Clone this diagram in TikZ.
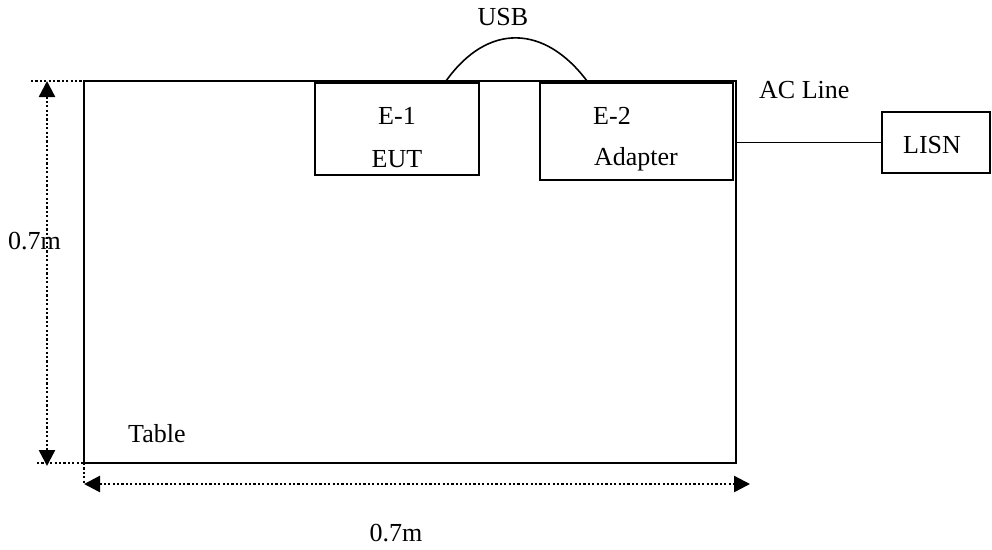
\documentclass[tikz,border=0pt]{standalone}
\usepackage{fontspec}
\setmainfont{Liberation Serif}
\usetikzlibrary{arrows.meta,calc}
\begin{document}
\begin{tikzpicture}[x=1pt,y=-1pt,
  every node/.style={font=\fontsize{26}{43}\selectfont,inner sep=0pt},
  lbl/.style={anchor=base},
  dimline/.style={line width=2.4pt,dash pattern=on 2.2pt off 2.2pt},
  dimarrow/.style={dimline,{Triangle[length=16pt,width=16pt]}-{Triangle[length=16pt,width=16pt]}}
]
\useasboundingbox (0,0) rectangle (992,549);
% table
\node[draw,line width=1.8pt,minimum width=652pt,minimum height=382pt] (table) at (410,272) {};
% boxes
\node[draw,line width=1.6pt,minimum width=164pt,minimum height=92pt] (e1) at (397,129) {};
\node[draw,line width=1.6pt,minimum width=193pt,minimum height=97pt] (e2) at (636.5,131.5) {};
\node[draw,line width=1.6pt,minimum width=108pt,minimum height=61pt] (lisn) at (936,142.5) {};
% texts
\node[lbl] (t1) at (397,124) {E-1};
\node[lbl] (t2) at (397,167) {EUT};
\node[lbl] (t3) at (612,124) {E-2};
\node[lbl] (t4) at (636,165) {Adapter};
\node[lbl] (t5) at (932,153) {LISN};
\node[anchor=base west] (t6) at (759,98) {AC Line};
\node[lbl] (t7) at (503,25) {USB};
\node[anchor=base west] (t8) at (128,442) {Table};
\node[anchor=base west] (t9) at (8,249) {0.7m};
\node[lbl] (t10) at (396,541) {0.7m};
% USB cable
\coordinate (u1) at (446,81);
\coordinate (u2) at (587,81);
\draw[line width=1.6pt] (u1) .. controls (488,22) and (545,25) .. (u2);
% AC line
\draw[line width=1.6pt] (table.east |- lisn.west) -- (lisn.west);
% dimensions
\coordinate (vt) at (47,81);
\coordinate (vb) at (47,466);
\coordinate (ht) at (84,484);
\coordinate (hr) at (750,484);
\draw[dimline] (31,81) -- (100,81);
\draw[dimline] (37,463) -- (107,463);
\draw[dimline] (84,463) -- (ht);
\draw[dimarrow] (vt) -- (vb);
\draw[dimarrow] (ht) -- (hr);
\end{tikzpicture}
\end{document}
